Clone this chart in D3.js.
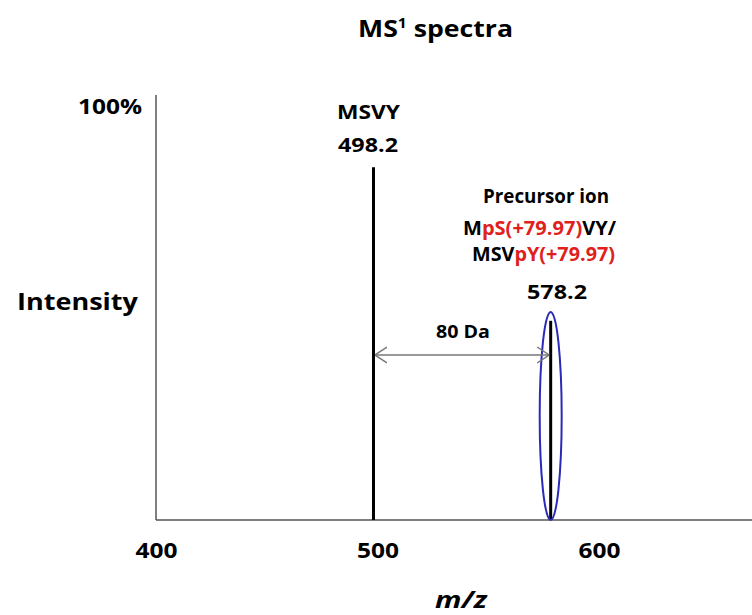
<!DOCTYPE html>
<html><head><meta charset="utf-8">
<script src="https://cdn.jsdelivr.net/npm/d3@7"></script>
<style>body{margin:0;background:#fff}svg{display:block}text{font-family:"Open Sans",sans-serif;font-weight:700}</style>
</head><body><div id="chart"></div>
<script>
const peakMz = [498.2, 578.2];
const peakIntensity = [85, 48];
const peakNames = ["MSVY", "Precursor ion"];
const xTicks = [400, 500, 600];
const yTicks = [100];
const deltaLabel = "80 Da";

const W = 752, H = 615;
const svg = d3.select("#chart").append("svg").attr("width", W).attr("height", H);
const x = d3.scaleLinear().domain([400, 670]).range([156, 754]);
const y = d3.scaleLinear().domain([0, 100]).range([520, 105]);

function fit(sel, len) { return sel.attr("textLength", len).attr("lengthAdjust", "spacingAndGlyphs"); }

// axes lines
svg.append("line").attr("x1", x(400)).attr("x2", W).attr("y1", y(0)).attr("y2", y(0))
  .attr("stroke", "#555").attr("stroke-width", 1.5);
svg.append("line").attr("x1", x(400)).attr("x2", x(400)).attr("y1", 95).attr("y2", y(0))
  .attr("stroke", "#555").attr("stroke-width", 1.5);

// x tick labels
const xAxis = d3.axisBottom(x).tickValues(xTicks).tickSize(0).tickPadding(0).tickFormat(d3.format("d"));
const gx = svg.append("g").attr("transform", `translate(0,${y(0)})`).call(xAxis);
gx.select(".domain").remove();
gx.selectAll("text").attr("dy", null).attr("y", 38).attr("font-size", 22)
  .attr("font-family", "Open Sans").attr("font-weight", 700).attr("fill", "#000")
  .attr("textLength", 42).attr("lengthAdjust", "spacingAndGlyphs");

// y tick label
const yAxis = d3.axisLeft(y).tickValues(yTicks).tickSize(0).tickPadding(14).tickFormat(d => d + "%");
const gy = svg.append("g").attr("transform", `translate(${x(400)},0)`).call(yAxis);
gy.select(".domain").remove();
gy.selectAll("text").attr("dy", null).attr("y", 8).attr("font-size", 22).attr("font-family", "Open Sans")
  .attr("font-weight", 700).attr("fill", "#000")
  .attr("textLength", 64).attr("lengthAdjust", "spacingAndGlyphs");

// peaks
svg.selectAll("line.peak").data(peakMz).enter().append("line").attr("class", "peak")
  .attr("x1", d => x(d)).attr("x2", d => x(d))
  .attr("y1", y(0)).attr("y2", (d, i) => y(peakIntensity[i]))
  .attr("stroke", "#000").attr("stroke-width", 3);

// ellipse around precursor
svg.append("ellipse").attr("cx", x(peakMz[1])).attr("cy", (y(0) + 312) / 2)
  .attr("rx", 11).attr("ry", (y(0) - 312) / 2)
  .attr("fill", "none").attr("stroke", "#2a2ab8").attr("stroke-width", 2);

// arrow
const defs = svg.append("defs");
["s", "e"].forEach(k => {
  defs.append("marker").attr("id", "arr" + k).attr("viewBox", "0 0 12 18")
    .attr("refX", k === "e" ? 12 : 0).attr("refY", 9).attr("markerWidth", 12).attr("markerHeight", 18)
    .attr("markerUnits", "userSpaceOnUse").attr("orient", "auto")
    .append("path").attr("d", k === "e" ? "M0,1 L12,9 L0,17" : "M12,1 L0,9 L12,17")
    .attr("fill", "none").attr("stroke", "#777").attr("stroke-width", 1.5);
});
svg.append("line").attr("x1", x(peakMz[0]) + 1.5).attr("x2", x(peakMz[1]) - 1.5).attr("y1", 355).attr("y2", 355)
  .attr("stroke", "#777").attr("stroke-width", 1.5)
  .attr("marker-start", "url(#arrs)").attr("marker-end", "url(#arre)");
fit(svg.append("text").attr("x", 436).attr("y", 338).attr("font-size", 17).text(deltaLabel), 54);

// peak labels
fit(svg.append("text").attr("x", 337).attr("y", 119).attr("font-size", 20).text(peakNames[0]), 63);
fit(svg.append("text").attr("x", 338).attr("y", 152).attr("font-size", 20).text(peakMz[0].toFixed(1)), 60);

fit(svg.append("text").attr("x", 483).attr("y", 203).attr("font-size", 20).text(peakNames[1]), 126);
const l2 = svg.append("text").attr("x", 463).attr("y", 235).attr("font-size", 20);
l2.append("tspan").text("M");
l2.append("tspan").attr("fill", "#e0201b").text("pS(+79.97)");
l2.append("tspan").text("VY/");
fit(l2, 153);
const l3 = svg.append("text").attr("x", 472).attr("y", 261).attr("font-size", 20);
l3.append("tspan").text("MSV");
l3.append("tspan").attr("fill", "#e0201b").text("pY(+79.97)");
fit(l3, 143);
fit(svg.append("text").attr("x", 527).attr("y", 299).attr("font-size", 20).text(peakMz[1].toFixed(1)), 60);

// axis titles
fit(svg.append("text").attr("x", 17).attr("y", 310).attr("font-size", 23).text("Intensity"), 121);
fit(svg.append("text").attr("x", 435).attr("y", 608).attr("font-size", 23)
  .attr("font-style", "italic").text("m/z"), 52);

// title
const t = svg.append("text").attr("x", 358).attr("y", 37).attr("font-size", 24);
t.append("tspan").text("MS");
t.append("tspan").attr("font-size", 14).attr("dy", -9).text("1");
t.append("tspan").attr("dy", 9).text(" spectra");
fit(t, 155);
</script></body></html>
